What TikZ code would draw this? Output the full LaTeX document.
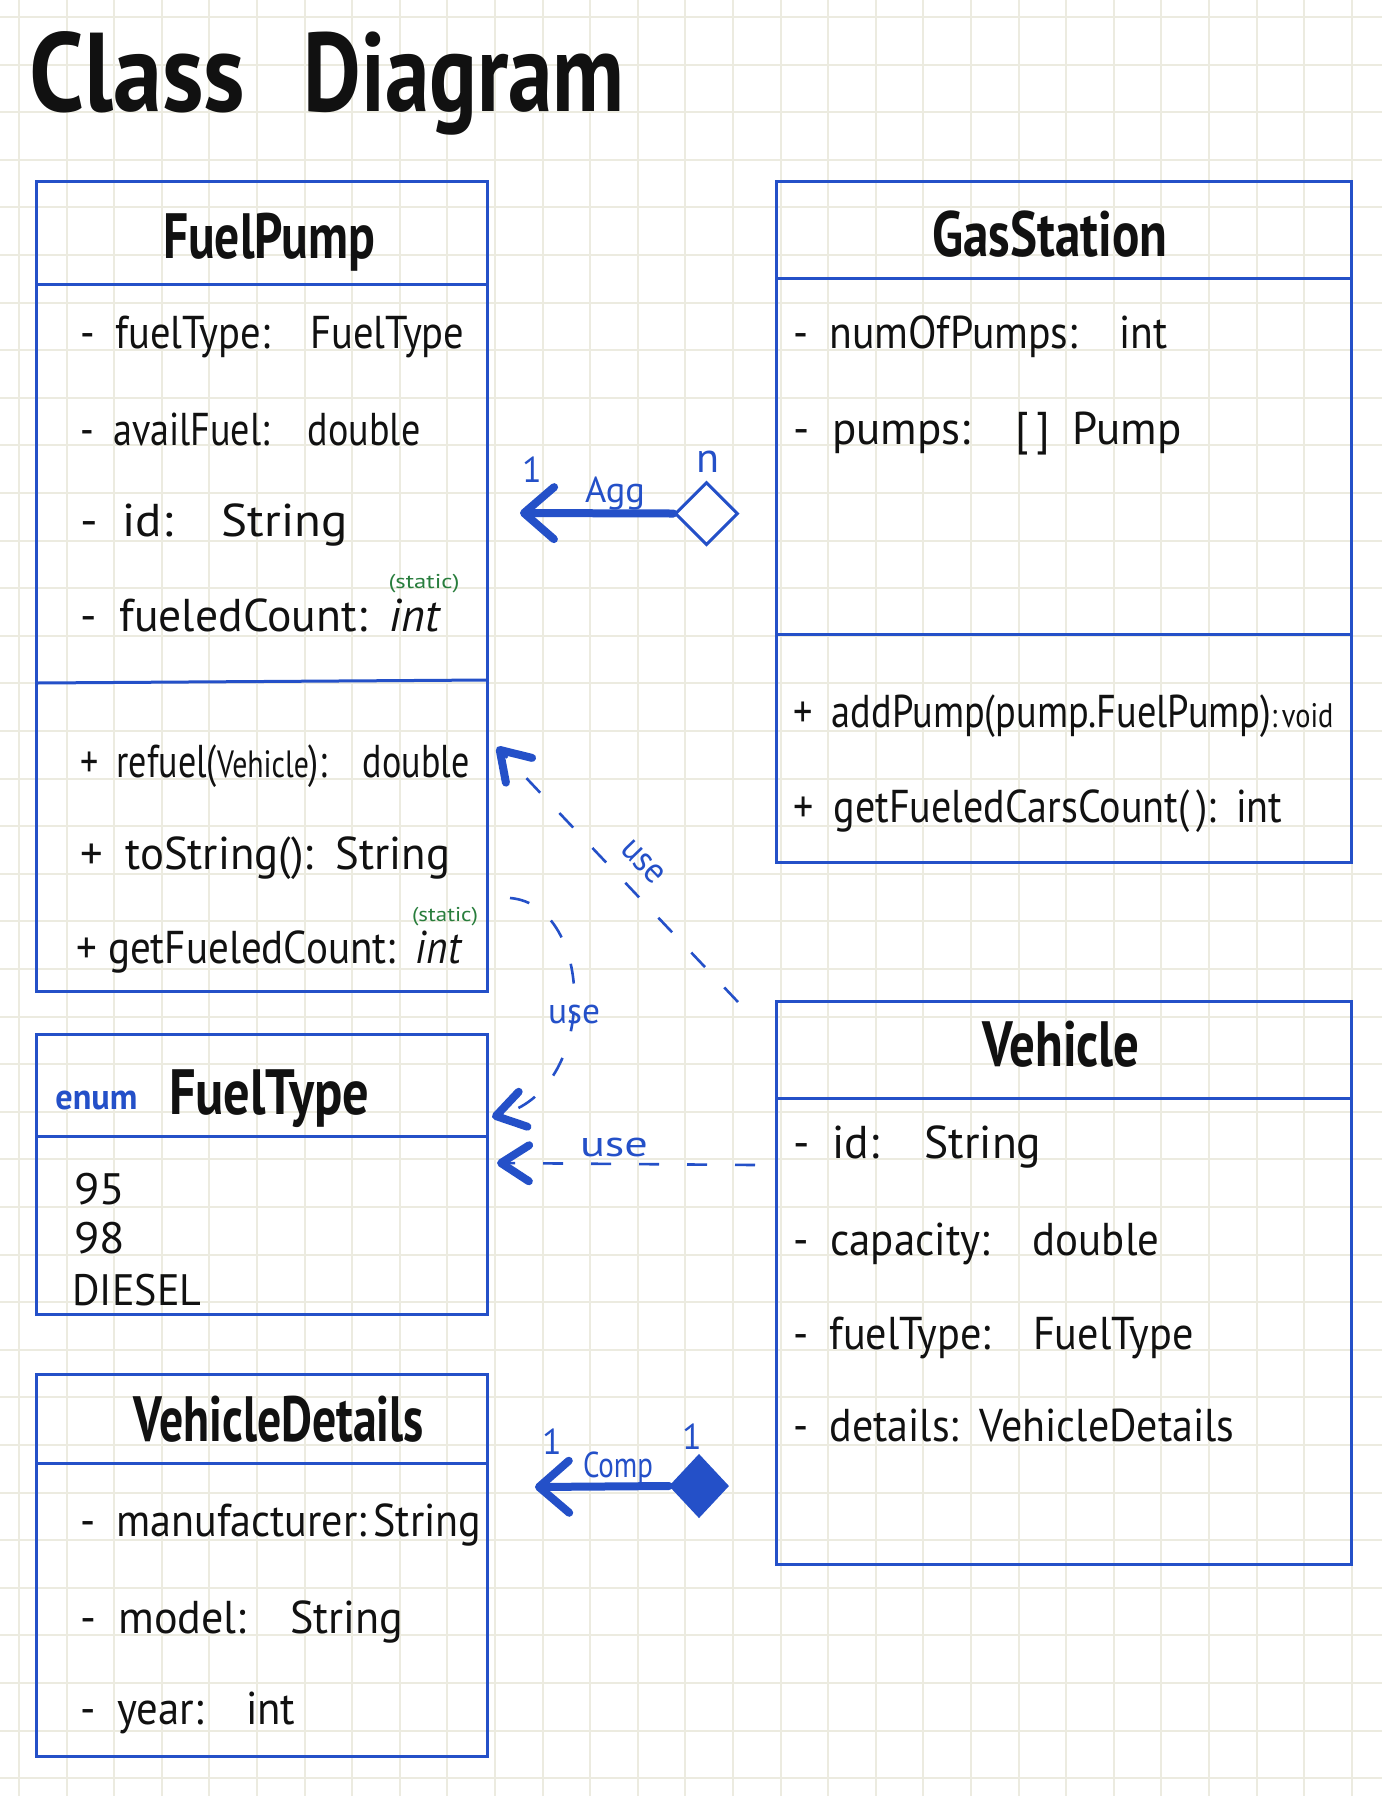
\documentclass[tikz,border=0pt]{standalone}
\usepackage{fontspec}
\usepackage{graphicx}
\setmainfont{PT Sans}
\usetikzlibrary{arrows.meta,shapes.geometric}
\definecolor{ublue}{RGB}{36,80,200}
\definecolor{gridc}{RGB}{236,235,224}
\definecolor{sgreen}{RGB}{40,125,60}
\definecolor{ink}{RGB}{17,17,17}
\newcommand\fitto[2]{\resizebox{#1}{\height}{#2}}
\begin{document}
\begin{tikzpicture}[x=0.5pt,y=-0.5pt,
  gridline/.style={draw=gridc,line width=1pt},
  umlbox/.style={draw=ublue,line width=1.5pt,inner sep=0pt,outer sep=0pt},
  divider/.style={draw=ublue,line width=1.5pt},
  txt/.style={anchor=mid west,inner sep=0pt,text=ink,font=\fontsize{23}{26}\selectfont},
  ttl/.style={anchor=mid,inner sep=0pt,text=ink,font=\fontsize{32}{36}\selectfont\bfseries},
  lbl/.style={inner sep=0pt,text=ublue,font=\fontsize{18}{20}\selectfont},
  statictxt/.style={inner sep=0pt,text=sgreen,font=\fontsize{10}{12}\selectfont},
  usearrow/.style={draw=ublue,line width=1.3pt,dash pattern=on 10pt off 14pt,
     -{Straight Barb[length=14pt,width=18pt,line width'=4pt,round]}},
  assoc/.style={draw=ublue,line width=4pt,line cap=round,
     -{Straight Barb[length=15pt,width=26pt,line width'=4pt,round]}}]
\useasboundingbox (0,0) rectangle (1382,1796);
\fill[white] (0,0) rectangle (1382,1796);
\begin{scope}
\clip (0,0) rectangle (1382,1796);
\foreach \i in {0,...,28} \draw[gridline] ({19+47.6*\i},0) -- ({19+47.6*\i},1796);
\foreach \i in {0,...,37} \draw[gridline] (0,{17+47.6*\i}) -- (1382,{17+47.6*\i});
\end{scope}

% title
\node[anchor=base west,inner sep=0pt,text=ink,font=\fontsize{56}{60}\selectfont\bfseries] (tclass) at (29,111) {\fitto{108pt}{Class}};
\node[anchor=base west,inner sep=0pt,text=ink,font=\fontsize{56}{60}\selectfont\bfseries] (tdiag) at (303,111) {\fitto{160.5pt}{Diagram}};

% boxes
\node[umlbox,minimum width=225.5pt,minimum height=405pt] (fuelpump) at (261.5,586) {};
\node[umlbox,minimum width=287.5pt,minimum height=340.5pt] (gasstation) at (1063.5,521.5) {};
\node[umlbox,minimum width=225.5pt,minimum height=140pt] (fueltype) at (261.5,1174) {};
\node[umlbox,minimum width=225.5pt,minimum height=191pt] (vdetails) at (261.5,1565) {};
\node[umlbox,minimum width=287.5pt,minimum height=281.5pt] (vehicle) at (1063.5,1282.5) {};

\draw[divider] (36,284) -- (487,284);
\draw[divider] (36,683) -- (487,680);
\draw[divider] (776,278) -- (1351,278);
\draw[divider] (776,634) -- (1351,634);
\draw[divider] (36,1136) -- (487,1136);
\draw[divider] (36,1463) -- (487,1463);
\draw[divider] (776,1098) -- (1351,1098);

% FuelPump
\node[ttl] (fpT) at (269,253) {\fitto{106pt}{FuelPump}};
\node[txt] (fp1) at (80,343) {\fitto{192pt}{-\enspace fuelType:\quad FuelType}};
\node[txt] (fp2) at (80,440) {\fitto{170pt}{-\enspace availFuel:\quad double}};
\node[txt] (fp3) at (80,531) {\fitto{133.5pt}{-\enspace id:\quad String}};
\node[txt] (fp4) at (80,626) {\fitto{180.5pt}{-\enspace fueledCount:\enspace \textit{int}}};
\node[statictxt] (fps1) at (424,584) {\fitto{35.5pt}{(static)}};
\node[txt] (fp5) at (80,772) {\fitto{194.5pt}{+\enspace refuel({\fontsize{19}{22}\selectfont Vehicle}):\quad double}};
\node[txt] (fp6) at (80,864) {\fitto{185pt}{+\enspace toString():\enspace String}};
\node[txt] (fp7) at (76,958) {\fitto{193pt}{+ getFueledCount:\enspace \textit{int}}};
\node[statictxt] (fps2) at (445,917) {\fitto{33pt}{(static)}};

% GasStation
\node[ttl] (gsT) at (1050,251) {\fitto{117.5pt}{GasStation}};
\node[txt] (gs1) at (793,343) {\fitto{187pt}{-\enspace numOfPumps:\quad int}};
\node[txt] (gs2) at (793,439) {\fitto{194pt}{-\enspace pumps:\quad [\,]\enspace Pump}};
\node[txt] (gs3) at (793,722) {\fitto{270pt}{+\enspace addPump(pump.FuelPump){\fontsize{17}{20}\selectfont:\,void}}};
\node[txt] (gs4) at (793,817) {\fitto{244.5pt}{+\enspace getFueledCarsCount(\,):\enspace int}};

% FuelType
\node[anchor=mid west,inner sep=0pt,text=ublue,font=\fontsize{18}{20}\selectfont\bfseries] (ftE) at (55,1104) {\fitto{41pt}{enum}};
\node[ttl] (ftT) at (269,1109) {\fitto{100pt}{FuelType}};
\node[txt,anchor=base west,font=\fontsize{22}{26}\selectfont] (ft1) at (74,1204) {\fitto{25.5pt}{95}};
\node[txt,anchor=base west,font=\fontsize{22}{26}\selectfont] (ft2) at (74,1253) {\fitto{25.5pt}{98}};
\node[txt,anchor=base west,font=\fontsize{22}{26}\selectfont] (ft3) at (72,1305) {\fitto{64.5pt}{DIESEL}};

% VehicleDetails
\node[ttl] (vdT) at (279,1436) {\fitto{145pt}{VehicleDetails}};
\node[txt] (vd1) at (80,1531) {\fitto{200.5pt}{-\enspace manufacturer:\,String}};
\node[txt] (vd2) at (80,1628) {\fitto{161.5pt}{-\enspace model:\quad String}};
\node[txt] (vd3) at (80,1719) {\fitto{107.5pt}{-\enspace year:\quad int}};

% Vehicle
\node[ttl] (vT) at (1061,1061) {\fitto{78.5pt}{Vehicle}};
\node[txt] (v1) at (793,1153) {\fitto{124pt}{-\enspace id:\quad String}};
\node[txt] (v2) at (793,1250) {\fitto{183pt}{-\enspace capacity:\quad double}};
\node[txt] (v3) at (793,1344) {\fitto{200pt}{-\enspace fuelType:\quad FuelType}};
\node[txt] (v4) at (793,1436) {\fitto{220.5pt}{-\enspace details:\enspace VehicleDetails}};

% Aggregation
\node[diamond,draw=ublue,line width=1.5pt,fill=white,inner sep=0pt,minimum width=31.5pt,minimum height=31.5pt] (aggd) at (706.5,513.5) {};
\coordinate (aggtip) at (520,513);
\draw[assoc] (aggd.west) -- (aggtip);
\node[lbl,anchor=base] (aggL) at (615,502) {\fitto{30pt}{Agg}};
\node[lbl] (agg1) at (532,470) {1};
\node[lbl,font=\fontsize{21}{24}\selectfont] (aggn) at (708,462) {n};

% Composition
\node[diamond,draw=ublue,fill=ublue,line width=1pt,inner sep=0pt,minimum width=29pt,minimum height=31pt] (compd) at (699,1486) {};
\coordinate (comptip) at (535,1487);
\draw[assoc] (compd.west) -- (comptip);
\node[lbl,anchor=base] (compL) at (618,1477) {\fitto{35pt}{Comp}};
\node[lbl] (comp1) at (552,1442) {1};
\node[lbl] (comp2) at (692,1437) {1};

% use: Vehicle -> FuelPump
\coordinate (u1s) at (738,1002);
\coordinate (u1t) at (497,747);
\draw[usearrow] (u1s) -- (u1t);
\node[lbl,rotate=-46] (u1L) at (643,862) {\fitto{25pt}{use}};

% use: FuelPump -> FuelType
\coordinate (u2s) at (510,898);
\coordinate (u2t) at (492,1117);
\draw[usearrow] (u2s) .. controls (595,905) and (600,1090) .. (u2t);
\node[lbl] (u2L) at (574,1014) {\fitto{26pt}{use}};

% use: Vehicle -> FuelType
\coordinate (u3s) at (755,1165);
\coordinate (u3t) at (497,1163);
\draw[usearrow] (u3s) -- (u3t);
\node[lbl] (u3L) at (614,1147) {\fitto{34pt}{use}};
\end{tikzpicture}
\end{document}
